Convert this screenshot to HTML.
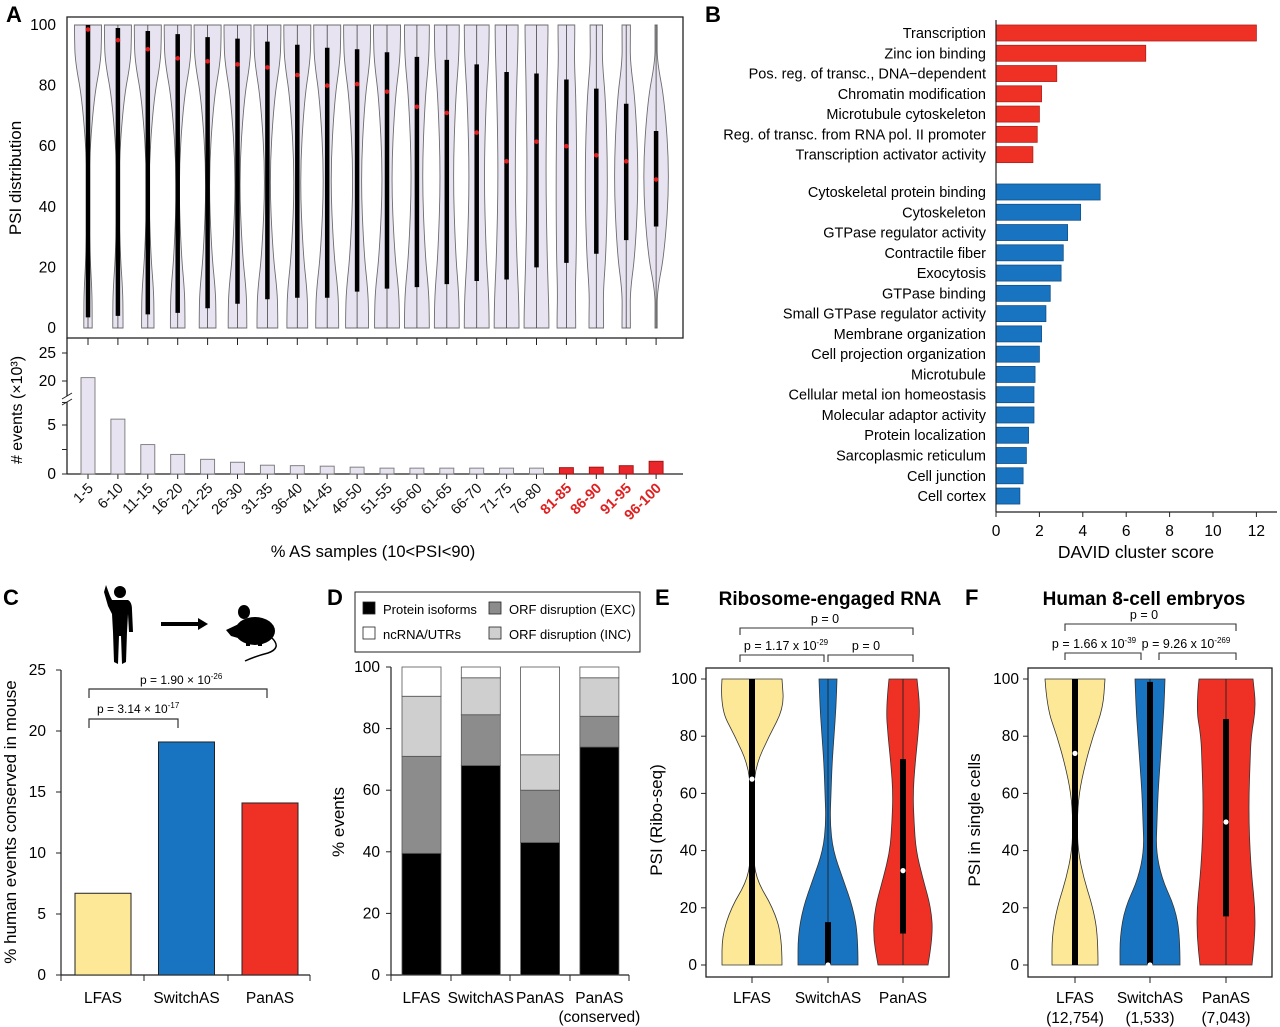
<!DOCTYPE html>
<html><head><meta charset="utf-8"><style>
body{margin:0;background:#fff}
svg{display:block;font-family:"Liberation Sans",Arial,sans-serif}
</style></head><body>
<svg id="fig" width="1280" height="1027" viewBox="0 0 1280 1027" xmlns="http://www.w3.org/2000/svg">
<g id="A"></g>
<g id="B"></g>
<g id="C"></g>
<g id="D"></g>
<g id="E"></g>
<g id="F"></g>
</svg>
<script>
// ---------- Panel A data ----------
const aCats = ["1-5","6-10","11-15","16-20","21-25","26-30","31-35","36-40","41-45","46-50","51-55","56-60","61-65","66-70","71-75","76-80","81-85","86-90","91-95","96-100"];
const aMedian = [98.5,95,92,89,88,87,86,83.5,80,80.5,78,73,71,64.5,55,61.5,60,57,55,49];
const aLow = [3.5,4,4.5,5,6.5,8,9.5,10,10,12,13,13.5,14.5,15.5,16,20,21.5,24.5,29,33.5];
const aHigh = [100,99,98,97,96,95.5,94.5,93.5,92.5,92,91,89.5,88.5,87,84.5,84,82,79,74,65];
const aDensTop = [1,1,1,1,1,1,1,1,1,1,1,0.92,0.92,0.92,0.85,0.85,0.62,0.46,0.31,0.08];
const aDensMid = [0.02,0.02,0.04,0.06,0.08,0.12,0.15,0.19,0.23,0.27,0.31,0.38,0.46,0.54,0.62,0.69,0.77,0.85,0.92,1];
const aDensBot = [0.31,0.38,0.46,0.54,0.62,0.69,0.77,0.77,0.85,0.85,0.92,0.92,0.92,0.92,0.92,0.92,0.69,0.54,0.31,0.08];
const aEvents = [20.6,5.6,3.0,2.0,1.5,1.2,0.9,0.85,0.8,0.7,0.6,0.6,0.6,0.6,0.6,0.6,0.65,0.7,0.85,1.3];
const aHighlight = [false,false,false,false,false,false,false,false,false,false,false,false,false,false,false,false,true,true,true,true];
// ---------- Panel B data ----------
const bRedTerms = ["Transcription","Zinc ion binding","Pos. reg. of transc., DNA\u2212dependent","Chromatin modification","Microtubule cytoskeleton","Reg. of transc. from RNA pol. II promoter","Transcription activator activity"];
const bRedScores = [12,6.9,2.8,2.1,2.0,1.9,1.7];
const bBlueTerms = ["Cytoskeletal protein binding","Cytoskeleton","GTPase regulator activity","Contractile fiber","Exocytosis","GTPase binding","Small GTPase regulator activity","Membrane organization","Cell projection organization","Microtubule","Cellular metal ion homeostasis","Molecular adaptor activity","Protein localization","Sarcoplasmic reticulum","Cell junction","Cell cortex"];
const bBlueScores = [4.8,3.9,3.3,3.1,3.0,2.5,2.3,2.1,2.0,1.8,1.75,1.75,1.5,1.4,1.25,1.1];
const bTicks = [0,2,4,6,8,10,12];
// ---------- Panel C data ----------
const cCats = ["LFAS","SwitchAS","PanAS"];
const cValues = [6.7,19.1,14.1];
const cTicks = [0,5,10,15,20,25];
// ---------- Panel D data ----------
const dCats = ["LFAS","SwitchAS","PanAS","PanAS"];
const dProtein = [39.5,68,43,74];
const dExc = [31.5,16.5,17,10];
const dInc = [19.5,12,11.5,12.5];
const dNc = [9.5,3.5,28.5,3.5];
const dTicks = [0,20,40,60,80,100];
// ---------- Panel E/F data ----------
const vLevels = [0,10,20,30,40,50,60,70,80,90,100];
const eDens = [[30,30,21,4,1,1,1,4,17,32,30],[30,30,25,15,5,2,3,4,6,8,9],[25,30,28,20,13,11,10,12,15,17,14]];
const eMed = [65,0,33];
const eQ1 = [0,0,11];
const eQ3 = [100,15,72];
const fDens = [[23,23,18,9,3,2,4,10,18,28,30],[30,30,25,12,6,7,8,10,12,14,15],[26,29,29,26,24,23,23,24,25,30,27]];
const fMed = [74,0,50];
const fQ1 = [0,0,17];
const fQ3 = [100,99,86];
const efCats = ["LFAS","SwitchAS","PanAS"];
const fCounts = ["(12,754)","(1,533)","(7,043)"];
const efTicks = [0,20,40,60,80,100];
const colors3 = ["#fce896","#1874c0","#ee3124"];

const NS="http://www.w3.org/2000/svg";
function el(parent,tag,attrs,txt){const e=document.createElementNS(NS,tag);for(const k in attrs)e.setAttribute(k,attrs[k]);if(txt!==undefined)e.textContent=txt;parent.appendChild(e);return e;}
function smoothPath(pts){
  let d="M"+pts[0][0]+","+pts[0][1];
  for(let i=1;i<pts.length-1;i++){const mx=(pts[i][0]+pts[i+1][0])/2,my=(pts[i][1]+pts[i+1][1])/2;d+=" Q"+pts[i][0]+","+pts[i][1]+" "+mx+","+my;}
  d+=" L"+pts[pts.length-1][0]+","+pts[pts.length-1][1];return d;}
function violinPath(cx,levels,hws,yf){
  const right=levels.map((l,i)=>[cx+hws[i],yf(l)]);
  const left=levels.map((l,i)=>[cx-hws[i],yf(l)]).reverse();
  return smoothPath(right)+" L"+left[0][0]+","+left[0][1]+smoothPath(left).replace(/^M[^ ]+/,"")+" Z";
}

// ================= Panel A =================
(function(){
const g=document.getElementById("A");
const yA=v=>328-v*3.03;
const xA=i=>88+i*29.9;
let t=el(g,"text",{x:6,y:22,"font-size":22,"font-weight":"bold"},"A");


let fr=el(g,"rect",{x:67,y:17,width:616,height:321,fill:"none",stroke:"#222","stroke-width":1.3});


[0,20,40,60,80,100].forEach(v=>{
  const lb=el(g,"text",{x:56,y:yA(v)+5,"font-size":15.5,"text-anchor":"end"},v);
  
  
});
const yt=el(g,"text",{x:0,y:0,"font-size":17,"text-anchor":"middle",transform:"translate(21,178) rotate(-90)"},"PSI distribution");


const lv=[0,4,12,25,50,75,88,96,100];
aCats.forEach((c,i)=>{
  const cx=xA(i),W=13.5;
  const top=aDensTop[i]*W,mid=aDensMid[i]*W,bot=aDensBot[i]*W;
  const hw=[bot,bot,bot*0.95,mid+(bot-mid)*0.4,mid,mid+(top-mid)*0.4,top*0.95,top,top];
  const p=el(g,"path",{d:violinPath(cx,lv,hw,yA),fill:"#e8e3f0",stroke:"#6c6c6c","stroke-width":0.9});
  
  
  el(g,"line",{x1:cx,x2:cx,y1:yA(0),y2:yA(100),stroke:"#444","stroke-width":0.8});
  const b=el(g,"line",{x1:cx,x2:cx,y1:yA(aLow[i]),y2:yA(aHigh[i]),stroke:"#000","stroke-width":4.5});
  
  
  const m=el(g,"circle",{cx:cx,cy:yA(aMedian[i]),r:2.3,fill:"#e02020"});
  
  
});
const yB=v=> v<=7.7 ? 474-v*9.8 : 381-(v-20)*5.6;
el(g,"line",{x1:67,x2:683,y1:474,y2:474,stroke:"#222","stroke-width":1.3});
el(g,"line",{x1:67,x2:67,y1:338,y2:396,stroke:"#222","stroke-width":1.3});
el(g,"line",{x1:67,x2:67,y1:402,y2:474,stroke:"#222","stroke-width":1.3});
el(g,"line",{x1:62,x2:72,y1:399,y2:393,stroke:"#222","stroke-width":1});
el(g,"line",{x1:62,x2:72,y1:405,y2:399,stroke:"#222","stroke-width":1});
[[0,"0"],[5,"5"],[20,"20"],[25,"25"]].forEach(([v,s])=>{
  el(g,"line",{x1:62,x2:67,y1:yB(v),y2:yB(v),stroke:"#222"});
  const lb=el(g,"text",{x:56,y:yB(v)+5,"font-size":15.5,"text-anchor":"end"},s);
  
  
});
el(g,"line",{x1:62,x2:67,y1:yB(2.5),y2:yB(2.5),stroke:"#222"});
el(g,"line",{x1:62,x2:67,y1:474-7.3*9.8,y2:474-7.3*9.8,stroke:"#222"});
const et=el(g,"text",{x:0,y:0,"font-size":16,"text-anchor":"middle",transform:"translate(22,410) rotate(-90)"},"# events (\u00d710\u00b3)");


aCats.forEach((c,i)=>{
  const cx=xA(i);
  el(g,"line",{x1:cx,x2:cx,y1:338,y2:345,stroke:"#222","stroke-width":1});
  el(g,"line",{x1:cx,x2:cx,y1:474,y2:479,stroke:"#222","stroke-width":1});
  const y=yB(aEvents[i]);
  const r=el(g,"rect",{x:cx-7,y:y,width:14,height:474-y,fill:aHighlight[i]?"#e8262b":"#e8e3f0",stroke:aHighlight[i]?"#a01010":"#777","stroke-width":0.9});
  
  
  const lb=el(g,"text",{x:0,y:0,"font-size":14.5,"text-anchor":"end","font-weight":aHighlight[i]?"bold":"normal",fill:aHighlight[i]?"#e02020":"#111",transform:`translate(${cx+6},${489}) rotate(-45)`},c);
  
  
});
const xt=el(g,"text",{x:373,y:557,"font-size":16.5,"text-anchor":"middle"},"% AS samples (10<PSI<90)");


})();

// ================= Panel B =================
(function(){
const g=document.getElementById("B");
const xb=v=>996+v*21.7;
let t=el(g,"text",{x:705,y:22,"font-size":22,"font-weight":"bold"},"B");


function rows(terms,scores,y0,color,kind){
  terms.forEach((term,i)=>{
    const yc=y0+i*20.27;
    const r=el(g,"rect",{x:996,y:yc-8,width:xb(scores[i])-996,height:16,fill:color,stroke:color==="#ee3124"?"#b0201a":"#10508a","stroke-width":0.8});
    
    
    const l=el(g,"text",{x:986,y:yc+5,"font-size":14.5,"text-anchor":"end"},term);
    
    
  });
}
rows(bRedTerms,bRedScores,33,"#ee3124","red");
rows(bBlueTerms,bBlueScores,192,"#1874c0","blue");
el(g,"line",{x1:996,x2:996,y1:20,y2:512,stroke:"#222","stroke-width":1.2});
el(g,"line",{x1:996,x2:1277,y1:512,y2:512,stroke:"#222","stroke-width":1.2});
bTicks.forEach(v=>{
  el(g,"line",{x1:xb(v),x2:xb(v),y1:512,y2:517,stroke:"#222"});
  const l=el(g,"text",{x:xb(v),y:536,"font-size":15.5,"text-anchor":"middle"},v);
  
  
});
const xt=el(g,"text",{x:1136,y:558,"font-size":17.5,"text-anchor":"middle"},"DAVID cluster score");


})();

// ================= Panel C =================
(function(){
const g=document.getElementById("C");
const yc=v=>975-v*12.2;
const xc=i=>103+i*83.5;
let t=el(g,"text",{x:3,y:605,"font-size":22,"font-weight":"bold"},"C");


const h=el(g,"g",{fill:"#000"});


el(h,"circle",{cx:120,cy:592,r:6});
el(h,"path",{d:"M112,600 L128,600 Q132,602 132,610 L133,632 L129,632 L128,614 L127,632 L126,662 L122,664 L121,636 L119,636 L118,664 L114,662 L113,632 L112,614 L108,606 L104,592 L106,585 L110,596 Z"});
el(g,"line",{x1:161,x2:200,y1:624,y2:624,stroke:"#000","stroke-width":4});
el(g,"path",{d:"M198,618 L208,624 L198,630 Z",fill:"#000"});
const m=el(g,"g",{fill:"#000"});


el(m,"ellipse",{cx:255,cy:631,rx:20,ry:14});
el(m,"path",{d:"M243,622 L226,630 L231,636 L245,640 Z"});
el(m,"ellipse",{cx:244,cy:612,rx:6,ry:7});
el(m,"path",{d:"M272,638 Q282,648 268,653 Q256,656 245,661",fill:"none",stroke:"#000","stroke-width":1.5});
el(m,"rect",{x:246,y:640,width:4,height:6});el(m,"rect",{x:258,y:640,width:4,height:6});
el(g,"line",{x1:61,x2:61,y1:yc(25),y2:975,stroke:"#222","stroke-width":1.2});
el(g,"line",{x1:61,x2:310,y1:975,y2:975,stroke:"#222","stroke-width":1.2});
cTicks.forEach(v=>{
  el(g,"line",{x1:56,x2:61,y1:yc(v),y2:yc(v),stroke:"#222"});
  const l=el(g,"text",{x:46,y:yc(v)+5,"font-size":15.5,"text-anchor":"end"},v);
  
  
});
[61,144,228,310].forEach(x=>el(g,"line",{x1:x,x2:x,y1:975,y2:981,stroke:"#222"}));
const cc=["#fce896","#1874c0","#ee3124"];
cCats.forEach((c,i)=>{
  const y=yc(cValues[i]);
  const r=el(g,"rect",{x:xc(i)-28,y:y,width:56,height:975-y,fill:cc[i],stroke:"#222","stroke-width":1});
  
  
  const l=el(g,"text",{x:xc(i),y:1003,"font-size":15.5,"text-anchor":"middle"},c);
  
  
});
const yt=el(g,"text",{x:0,y:0,"font-size":17,"text-anchor":"middle",transform:"translate(16,822) rotate(-90)"},"% human events conserved in mouse");


el(g,"path",{d:"M89,698 V689 H267 V698",fill:"none",stroke:"#333","stroke-width":1.2});
el(g,"path",{d:"M89,728 V719 H178 V728",fill:"none",stroke:"#333","stroke-width":1.2});
const p1=el(g,"text",{x:140,y:684,"font-size":12},"p = 1.90 \u00d7 10");
el(p1,"tspan",{dy:-5,"font-size":8},"-26");


const p2=el(g,"text",{x:97,y:713,"font-size":12},"p = 3.14 \u00d7 10");
el(p2,"tspan",{dy:-5,"font-size":8},"-17");


})();

// ================= Panel D =================
(function(){
const g=document.getElementById("D");
const yd=v=>975-v*3.08;
const xd=i=>421.5+i*59.3;
let t=el(g,"text",{x:327,y:605,"font-size":22,"font-weight":"bold"},"D");


const lg=el(g,"g",{});


el(lg,"rect",{x:355,y:592,width:285,height:60,fill:"#fff",stroke:"#222","stroke-width":1});
const leg=[["Protein isoforms","#000",363,609],["ORF disruption (EXC)","#8c8c8c",489,609],["ncRNA/UTRs","#fff",363,634],["ORF disruption (INC)","#cfcfcf",489,634]];
leg.forEach(([s,c,x,y])=>{
  const e=el(lg,"g",{});
  
  
  el(e,"rect",{x:x,y:y-7,width:12,height:12,fill:c,stroke:"#222","stroke-width":0.8});
  el(e,"text",{x:x+20,y:y+5,"font-size":13},s);
});
el(g,"line",{x1:391,x2:391,y1:yd(100),y2:975,stroke:"#222","stroke-width":1.2});
el(g,"line",{x1:391,x2:629,y1:975,y2:975,stroke:"#222","stroke-width":1.2});
dTicks.forEach(v=>{
  el(g,"line",{x1:386,x2:391,y1:yd(v),y2:yd(v),stroke:"#222"});
  const l=el(g,"text",{x:380,y:yd(v)+5,"font-size":15.5,"text-anchor":"end"},v);
  
  
});
[391,451,510,570,629].forEach(x=>el(g,"line",{x1:x,x2:x,y1:975,y2:981,stroke:"#222"}));
const series=[[dProtein,"#000","protein-isoforms"],[dExc,"#8c8c8c","orf-exc"],[dInc,"#cfcfcf","orf-inc"],[dNc,"#fff","ncrna-utrs"]];
dCats.forEach((c,i)=>{
  let acc=0;
  series.forEach(([arr,col,nm])=>{
    const y0=yd(acc),y1=yd(acc+arr[i]);acc+=arr[i];
    const r=el(g,"rect",{x:xd(i)-19.5,y:y1,width:39,height:y0-y1,fill:col,stroke:"#555","stroke-width":0.8});
    
    
  });
  const l=el(g,"text",{x:xd(i),y:1003,"font-size":15.5,"text-anchor":"middle"},c);
  
  
});
const l2=el(g,"text",{x:xd(3),y:1022,"font-size":15.5,"text-anchor":"middle"},"(conserved)");


const yt=el(g,"text",{x:0,y:0,"font-size":17,"text-anchor":"middle",transform:"translate(344,822) rotate(-90)"},"% events");


})();

// ================= Panels E & F =================
function violinPanel(id,letter,lx,title,tx,fx0,fx1,cxs,dens,med,q1,q3,ytitle,ytx,counts,brackets){
const g=document.getElementById(id);
const yv=v=>965-v*2.86;
let t=el(g,"text",{x:lx,y:605,"font-size":22,"font-weight":"bold"},letter);


const tt=el(g,"text",{x:tx,y:605,"font-size":19,"font-weight":"bold","text-anchor":"middle"},title);


const fr=el(g,"rect",{x:fx0,y:668,width:fx1-fx0,height:309,fill:"none",stroke:"#222","stroke-width":1.3});


efTicks.forEach(v=>{
  el(g,"line",{x1:fx0-5,x2:fx0,y1:yv(v),y2:yv(v),stroke:"#222"});
  const l=el(g,"text",{x:fx0-9,y:yv(v)+5,"font-size":15.5,"text-anchor":"end"},v);
  
  
});
const yt=el(g,"text",{x:0,y:0,"font-size":17,"text-anchor":"middle",transform:`translate(${ytx},820) rotate(-90)`},ytitle);


efCats.forEach((c,i)=>{
  const cx=cxs[i];
  const p=el(g,"path",{d:violinPath(cx,vLevels,dens[i],yv),fill:colors3[i],stroke:"#333","stroke-width":0.8});
  
  
  el(g,"line",{x1:cx,x2:cx,y1:yv(0),y2:yv(100),stroke:"#222","stroke-width":0.9});
  const b=el(g,"line",{x1:cx,x2:cx,y1:yv(q1[i]),y2:yv(q3[i]),stroke:"#000","stroke-width":6});
  
  
  const m=el(g,"circle",{cx:cx,cy:yv(med[i]),r:2.6,fill:"#fff"});
  
  
  el(g,"line",{x1:cx,x2:cx,y1:977,y2:983,stroke:"#222"});
  const l=el(g,"text",{x:cx,y:1003,"font-size":15.5,"text-anchor":"middle"},c);
  
  
  if(counts){const l2=el(g,"text",{x:cx,y:1023,"font-size":15.5,"text-anchor":"middle"},counts[i]);
    
    }
});
brackets.forEach(([x0,x1,y,tx2,txt,exp])=>{
  el(g,"path",{d:`M${x0},${y+7} V${y} H${x1} V${y+7}`,fill:"none",stroke:"#333","stroke-width":1.1});
  const p=el(g,"text",{x:tx2,y:y-5,"font-size":12.5,"text-anchor":"middle"},txt);
  if(exp){el(p,"tspan",{dy:-5,"font-size":8},exp);}
  
  
});
}
violinPanel("E","E",655,"Ribosome-engaged RNA",830,706,949,[752,828,903],eDens,eMed,eQ1,eQ3,"PSI (Ribo-seq)",662,null,
 [[740,913,628,825,"p = 0",""],[740,824,655,786,"p = 1.17 x 10","-29"],[828,913,655,866,"p = 0",""]]);
violinPanel("F","F",965,"Human 8-cell embryos",1144,1028,1272,[1075,1150,1226],fDens,fMed,fQ1,fQ3,"PSI in single cells",980,fCounts,
 [[1065,1236,624,1144,"p = 0",""],[1065,1141,653,1094,"p = 1.66 x 10","-39"],[1159,1236,653,1186,"p = 9.26 x 10","-269"]]);
</script>
</body></html>
